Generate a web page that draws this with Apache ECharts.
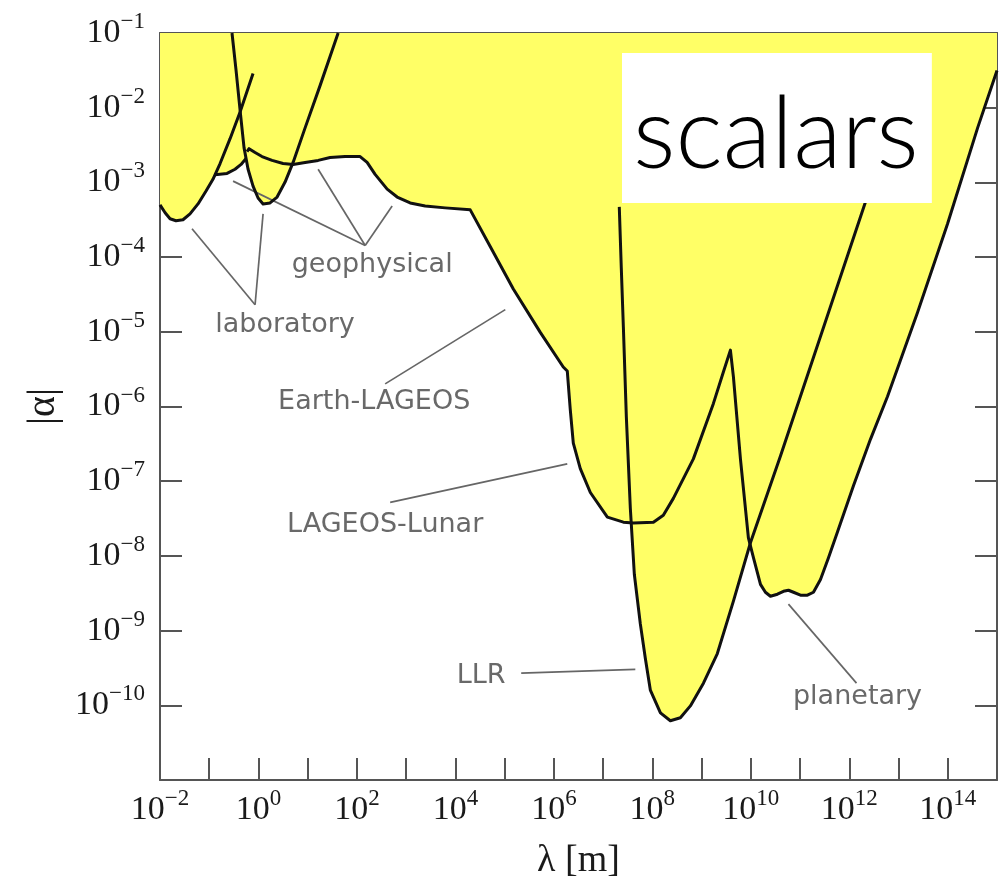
<!DOCTYPE html>
<html>
<head>
<meta charset="utf-8">
<script src="https://cdn.jsdelivr.net/npm/echarts@6/dist/echarts.min.js"></script>
<style>
html,body{margin:0;padding:0;background:#fff;}
#chart{width:1007px;height:885px;}
</style>
</head>
<body>
<div id="chart"></div>
<script>
// ---- tick labels (exponents of ten) ----
const xLabelExponents = [-2, 0, 2, 4, 6, 8, 10, 12, 14];
const yLabelExponents = [-10, -9, -8, -7, -6, -5, -4, -3, -2, -1];

// ---- constraint curves: [lambda (m), |alpha|] ----
const laboratoryCurve1 = [[1e-2,5.0e-4],[0.0127,3.92e-4],[0.0160,3.26e-4],[0.0211,3.07e-4],[0.0293,3.16e-4],[0.0407,3.79e-4],[0.0592,5.15e-4],[0.0861,7.66e-4],[0.119,1.10e-3],[0.166,1.79e-3],[0.265,3.85e-3],[0.423,8.75e-3],[0.776,2.87e-2]];
const laboratoryCurve2 = [[0.131,1.27e-3],[0.230,1.32e-3],[0.334,1.50e-3],[0.443,1.74e-3],[0.560,2.1e-3]];
const laboratoryCurve3 = [[0.290,0.1],[0.351,3.14e-2],[0.423,9.29e-3],[0.509,2.92e-3],[0.615,1.50e-3],[0.776,8.91e-4],[0.982,6.18e-4],[1.24,5.15e-4],[1.72,5.31e-4],[2.39,6.37e-4],[3.47,1.01e-3],[5.05,1.85e-3],[8.85,5.37e-3],[17.9,1.99e-2],[41.5,0.1]];
const geoLageosPlanetaryCurve = [[0.586,2.59e-3],[0.644,2.83e-3],[0.853,2.51e-3],[1.18,2.22e-3],[1.89,1.97e-3],[3.16,1.79e-3],[5.05,1.74e-3],[8.85,1.85e-3],[16.3,1.97e-3],[28.5,2.15e-3],[57.5,2.22e-3],[116,2.22e-3],[161,1.85e-3],[234,1.28e-3],[411,8.13e-4],[656,6.37e-4],[1205,5.31e-4],[2432,4.84e-4],[6209,4.56e-4],[2.0e4,4.29e-4],[5.09e4,1.39e-4],[1.50e5,3.75e-5],[5.30e5,9.82e-6],[1.55e6,3.38e-6],[1.87e6,2.99e-6],[2.15e6,9.12e-7],[2.48e6,3.24e-7],[3.44e6,1.47e-7],[5.50e6,7.06e-8],[1.22e7,3.30e-8],[2.58e7,2.83e-8],[4.11e7,2.75e-8],[1.05e8,2.83e-8],[1.67e8,3.51e-8],[2.67e8,5.89e-8],[6.81e8,1.99e-7],[1.74e9,1.10e-6],[2.77e9,2.90e-6],[3.85e9,5.68e-6],[4.43e9,2.49e-6],[6.15e9,1.99e-7],[8.93e9,1.74e-8],[1.13e10,9.46e-9],[1.57e10,4.16e-9],[1.98e10,3.26e-9],[2.50e10,2.88e-9],[3.47e10,3.07e-9],[4.60e10,3.36e-9],[5.81e10,3.47e-9],[7.35e10,3.26e-9],[1.02e11,2.98e-9],[1.41e11,2.98e-9],[1.87e11,3.26e-9],[2.60e11,4.84e-9],[3.78e11,9.46e-9],[5.75e11,2.09e-8],[1.22e12,8.75e-8],[2.70e12,3.66e-7],[5.97e12,1.36e-6],[2.43e13,1.81e-5],[9.91e13,2.80e-4],[4.04e14,5.37e-3],[1e15,3.14e-2]];
const llrCurve = [[2.13e7,4.70e-4],[2.34e7,7.11e-5],[2.58e7,1.14e-5],[2.96e7,7.38e-7],[3.57e7,4.34e-8],[4.31e7,5.64e-9],[5.70e7,1.23e-9],[7.21e7,4.24e-10],[9.10e7,1.60e-10],[1.46e8,7.93e-11],[2.32e8,6.22e-11],[3.71e8,6.81e-11],[5.92e8,9.82e-11],[1.09e9,1.98e-10],[2.09e9,4.93e-10],[4.43e9,2.48e-9],[9.82e9,1.50e-8],[4.00e10,2.18e-7],[2.99e11,1.14e-5],[2.13e12,5.47e-4],[4.31e12,2.15e-3]];

// lower edge of the excluded (yellow) region
const excludedEdge = [[1e-2,5.0e-4],[0.0127,3.92e-4],[0.0160,3.26e-4],[0.0211,3.07e-4],[0.0293,3.16e-4],[0.0407,3.79e-4],[0.0592,5.15e-4],[0.0861,7.66e-4],[0.119,1.10e-3],[0.131,1.27e-3],[0.230,1.32e-3],[0.334,1.50e-3],[0.443,1.74e-3],[0.560,2.1e-3],[0.615,1.50e-3],[0.776,8.91e-4],[0.982,6.18e-4],[1.24,5.15e-4],[1.72,5.31e-4],[2.39,6.37e-4],[3.47,1.01e-3],[4.9,1.73e-3],[5.05,1.74e-3],[8.85,1.85e-3],[16.3,1.97e-3],[28.5,2.15e-3],[57.5,2.22e-3],[116,2.22e-3],[161,1.85e-3],[234,1.28e-3],[411,8.13e-4],[656,6.37e-4],[1205,5.31e-4],[2432,4.84e-4],[6209,4.56e-4],[2.0e4,4.29e-4],[5.09e4,1.39e-4],[1.50e5,3.75e-5],[5.30e5,9.82e-6],[1.55e6,3.38e-6],[1.87e6,2.99e-6],[2.15e6,9.12e-7],[2.48e6,3.24e-7],[3.44e6,1.47e-7],[5.50e6,7.06e-8],[1.22e7,3.30e-8],[2.58e7,2.83e-8],[3.70e7,2.76e-8],[4.31e7,5.64e-9],[5.70e7,1.23e-9],[7.21e7,4.24e-10],[9.10e7,1.60e-10],[1.46e8,7.93e-11],[2.32e8,6.22e-11],[3.71e8,6.81e-11],[5.92e8,9.82e-11],[1.09e9,1.98e-10],[2.09e9,4.93e-10],[4.43e9,2.48e-9],[9.8e9,1.42e-8],[1.13e10,9.46e-9],[1.57e10,4.16e-9],[1.98e10,3.26e-9],[2.50e10,2.88e-9],[3.47e10,3.07e-9],[4.60e10,3.36e-9],[5.81e10,3.47e-9],[7.35e10,3.26e-9],[1.02e11,2.98e-9],[1.41e11,2.98e-9],[1.87e11,3.26e-9],[2.60e11,4.84e-9],[3.78e11,9.46e-9],[5.75e11,2.09e-8],[1.22e12,8.75e-8],[2.70e12,3.66e-7],[5.97e12,1.36e-6],[2.43e13,1.81e-5],[9.91e13,2.80e-4],[4.04e14,5.37e-3],[1e15,3.14e-2]];

// ---- annotations ----
const annotationNames = ['geophysical', 'laboratory', 'Earth-LAGEOS', 'LAGEOS-Lunar', 'LLR', 'planetary'];
const annotationPositions = [[204,7.8e-5],[3.47,1.25e-5],[224,1.16e-6],[374,2.59e-8],[3.34e4,2.45e-10],[1.47e12,1.29e-10]];
const leaderLines = [
  [[147,1.43e-4],[0.305,1.04e-3]],
  [[147,1.43e-4],[16.3,1.50e-3]],
  [[147,1.43e-4],[519,4.84e-4]],
  [[0.853,2.30e-5],[0.0447,2.40e-4]],
  [[0.853,2.30e-5],[1.24,3.79e-4]],
  [[374,2.01e-6],[1.03e5,1.98e-5]],
  [[473,5.21e-8],[1.87e6,1.71e-7]],
  [[2.17e5,2.69e-10],[4.51e7,3.03e-10]],
  [[5.81e10,2.26e-9],[1.40e12,1.98e-10]]
];

const AXIS_COLOR = '#555';
const TEXT_COLOR = '#1a1a1a';
const CURVE_COLOR = '#111';
const CURVE_WIDTH = 3;
const SERIF = 'Liberation Serif, Times New Roman, serif';

const richPow = {
  b: { fontFamily: SERIF, fontSize: 34, lineHeight: 34, color: TEXT_COLOR },
  s: { fontFamily: SERIF, fontSize: 23, lineHeight: 23, color: TEXT_COLOR, padding: [0, 0, 22, 0] }
};
function powLabel(list) {
  return function (v) {
    const e = Math.round(v);
    if (list.indexOf(e) < 0) return '';
    const t = e < 0 ? '\u2212' + (-e) : String(e);
    return '{b|10}{s|' + t + '}';
  };
}
function frameAxis(extra) {
  return Object.assign({
    type: 'value',
    interval: 1,
    axisLine: { show: true, onZero: false, lineStyle: { color: AXIS_COLOR, width: 2 } },
    axisTick: { show: true, inside: true, length: 22, lineStyle: { color: AXIS_COLOR, width: 2 } },
    splitLine: { show: false },
    axisLabel: { show: false }
  }, extra);
}
function curve(name, data) {
  return { type: 'line', name: name, xAxisIndex: 0, yAxisIndex: 0, data: data, showSymbol: false, symbol: 'none',
    lineStyle: { color: CURVE_COLOR, width: CURVE_WIDTH, join: 'round' }, z: 3 };
}

const chart = echarts.init(document.getElementById('chart'));
chart.setOption({
  animation: false,
  backgroundColor: '#ffffff',
  title: {
    text: 'scalars',
    left: 622,
    top: 53,
    padding: [33, 13, 17, 11],
    backgroundColor: '#ffffff',
    textStyle: { fontFamily: 'Lato, Open Sans, sans-serif', fontWeight: 300, fontSize: 100, lineHeight: 100, color: '#000' }
  },
  grid: { left: 160, right: 10, top: 33, bottom: 97, containLabel: false },
  xAxis: [
    { type: 'log', logBase: 10, min: 1e-2, max: 1e15, show: false },
    frameAxis({ min: -2, max: 15, position: 'bottom',
      axisLabel: { show: true, margin: 13, formatter: powLabel(xLabelExponents), rich: richPow },
      name: '\u03bb [m]', nameLocation: 'middle', nameGap: 62,
      nameTextStyle: { fontFamily: SERIF, fontSize: 38, color: TEXT_COLOR } }),
    frameAxis({ min: -2, max: 15, position: 'top' })
  ],
  yAxis: [
    { type: 'log', logBase: 10, min: 1e-11, max: 1e-1, show: false },
    frameAxis({ min: -11, max: -1, position: 'left',
      axisLabel: { show: true, margin: 15, formatter: powLabel(yLabelExponents), rich: richPow },
      name: '|\u03b1|', nameLocation: 'middle', nameGap: 97, nameRotate: 90,
      nameTextStyle: { fontFamily: SERIF, fontSize: 40, color: TEXT_COLOR } }),
    frameAxis({ min: -11, max: -1, position: 'right' })
  ],
  series: [
    {
      type: 'line', name: 'excluded', xAxisIndex: 0, yAxisIndex: 0, data: excludedEdge,
      showSymbol: false, symbol: 'none', lineStyle: { width: 0, opacity: 0 },
      areaStyle: { color: '#ffff66', opacity: 1, origin: 'end' }, z: 1, silent: true
    },
    {
      type: 'lines', coordinateSystem: 'cartesian2d', xAxisIndex: 0, yAxisIndex: 0,
      data: leaderLines.map(function (c) { return { coords: c }; }),
      lineStyle: { color: '#666', width: 1.7, opacity: 1 }, z: 2, silent: true
    },
    curve('lab1', laboratoryCurve1),
    curve('lab2', laboratoryCurve2),
    curve('lab3', laboratoryCurve3),
    curve('geo', geoLageosPlanetaryCurve),
    curve('LLR', llrCurve),
    {
      type: 'scatter', xAxisIndex: 0, yAxisIndex: 0, symbolSize: 0, z: 4, silent: true,
      data: annotationNames.map(function (n, i) { return { name: n, value: annotationPositions[i] }; }),
      label: { show: true, position: 'inside', formatter: '{b}', fontFamily: 'DejaVu Sans, sans-serif', fontSize: 27, color: '#444' }
    }
  ]
});
</script>
</body>
</html>
